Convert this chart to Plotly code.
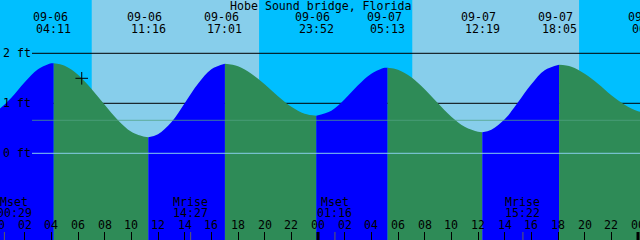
import plotly.graph_objects as go

# ---------------- data ----------------
TITLE = "Hobe Sound bridge, Florida"

# hours since 09-06 00:00 and tide level (ft)
hours = list(range(0, 50))
levels = [0.87, 1.11, 1.42, 1.68, 1.80,
          1.75, 1.57, 1.29, 0.97, 0.66, 0.43, 0.33,
          0.38, 0.62, 1.00, 1.39, 1.68, 1.79,
          1.74, 1.59, 1.38, 1.14, 0.93, 0.79,
          0.75, 0.85, 1.08, 1.36, 1.59, 1.71,
          1.67, 1.52, 1.28, 1.00, 0.73, 0.53, 0.43,
          0.47, 0.68, 1.02, 1.38, 1.66, 1.77,
          1.73, 1.59, 1.39, 1.16, 0.97, 0.84,
          0.80]

# high / low tide events (the first one lies before the chart start)
ext_hours = [-1.0, 4.18, 11.27, 17.02, 23.87, 29.22, 36.32, 42.08, 48.83]
ext_levels = [0.78, 1.80, 0.32, 1.79, 0.75, 1.71, 0.42, 1.77, 0.80]
ext_dates = ["09-05", "09-06", "09-06", "09-06", "09-06", "09-07", "09-07", "09-07", "09-08"]
ext_clock = ["22:59", "04:11", "11:16", "17:01", "23:52", "05:13", "12:19", "18:05", "00:50"]

# sun
sunrise_hours = [7.03, 31.07]
sunset_hours = [19.58, 43.58]

# moon
moon_hours = [0.48, 14.45, 25.27, 39.37]
moon_names = ["Mset", "Mrise", "Mset", "Mrise"]
moon_clock = ["00:29", "14:27", "01:16", "15:22"]
moon_label_shift = [10, 0, 0, 0]

# axis ticks
tick_hours = list(range(0, 50, 2))
tick_text = ["%02d" % (h % 24) for h in tick_hours]
midnight_hours = [0, 24, 48]

depth_levels = [2, 1, 0]
depth_text = ["2 ft", "1 ft", "0 ft"]
msl_level = 0.66
now_hour = 6.28
now_level = 1.50

# ---------------- style ----------------
W, H = 640, 240
XMIN, XMAX = 0.15, 48.15
YMIN, YMAX = -1.734, 3.066
BOTTOM = -2.5
C_NIGHT = "#00BFFF"
C_DAY = "#87CEEB"
C_RISE = "#0000FF"
C_FALL = "#2E8B57"
FONT = dict(family="DejaVu Sans Mono", size=11.6, color="black")


def fx(t):
    return (t - XMIN) / (XMAX - XMIN)


def fy_px(py):
    return 1 - py / H


fig = go.Figure()

# tide curve, coloured by rising / falling
for i in range(len(ext_hours) - 1):
    tA, tB = ext_hours[i], ext_hours[i + 1]
    hA, hB = ext_levels[i], ext_levels[i + 1]
    xs = [tA]
    ys = [hA]
    for t, lv in zip(hours, levels):
        if tA + 0.15 < t < tB - 0.15:
            xs.append(t)
            ys.append(lv)
    xs.append(tB)
    ys.append(hB)
    col = C_RISE if hB > hA else C_FALL
    fig.add_trace(go.Scatter(x=[tA, tB], y=[BOTTOM, BOTTOM], mode="lines",
                             line=dict(width=0), hoverinfo="skip", showlegend=False))
    fig.add_trace(go.Scatter(x=xs, y=ys, mode="lines", line=dict(width=0, shape="spline", color=col),
                             fill="tonexty", fillcolor=col, hoverinfo="skip", showlegend=False))

# current-time mark
fig.add_trace(go.Scatter(x=[now_hour], y=[now_level], mode="markers",
                         marker=dict(symbol="cross-thin", size=9, line=dict(width=1, color="black")),
                         showlegend=False, hoverinfo="skip"))

shapes = []
for r, s in zip(sunrise_hours, sunset_hours):
    shapes.append(dict(type="rect", xref="x", yref="paper", x0=r, x1=s, y0=0, y1=1,
                       fillcolor=C_DAY, line=dict(width=0), layer="below"))
for lv in depth_levels[:2]:
    shapes.append(dict(type="line", xref="paper", yref="y", x0=32 / W, x1=1, y0=lv, y1=lv,
                       line=dict(color="black", width=1), layer="below"))
shapes.append(dict(type="line", xref="paper", yref="y", x0=32 / W, x1=1, y0=msl_level, y1=msl_level,
                   line=dict(color="rgba(80,160,130,0.75)", width=1), layer="above"))
shapes.append(dict(type="line", xref="paper", yref="y", x0=32 / W, x1=1, y0=0, y1=0,
                   line=dict(color="#87CEEB", width=1), layer="above"))
for t in midnight_hours:
    shapes.append(dict(type="line", xref="x", yref="paper", x0=t, x1=t, y0=0, y1=8 / H,
                       line=dict(color="black", width=3), layer="above"))
for t in moon_hours:
    shapes.append(dict(type="line", xref="x", yref="paper", x0=t, x1=t, y0=0, y1=8 / H,
                       line=dict(color="#606060", width=1), layer="above"))

ann = []
ann.append(dict(text=TITLE, xref="paper", yref="paper", x=0.5, y=fy_px(5.5),
                xanchor="center", yanchor="middle", showarrow=False, font=FONT))
for t, d, c in zip(ext_hours, ext_dates, ext_clock):
    if t < XMIN:
        continue
    ann.append(dict(text=d, xref="paper", yref="paper", x=fx(t), y=fy_px(16.7), xshift=-3.5,
                    xanchor="center", yanchor="middle", showarrow=False, font=FONT))
    ann.append(dict(text=c, xref="paper", yref="paper", x=fx(t), y=fy_px(29.3),
                    xanchor="center", yanchor="middle", showarrow=False, font=FONT))
for lv, txt in zip(depth_levels, depth_text):
    ann.append(dict(text=txt, xref="paper", yref="y", x=1 / W, y=lv, yshift=0.5,
                    xanchor="left", yanchor="middle", showarrow=False, font=FONT))
for t, n, c, sh in zip(moon_hours, moon_names, moon_clock, moon_label_shift):
    ann.append(dict(text=n, xref="paper", yref="paper", x=fx(t), y=fy_px(201.7), xshift=sh,
                    xanchor="center", yanchor="middle", showarrow=False, font=FONT))
    ann.append(dict(text=c, xref="paper", yref="paper", x=fx(t), y=fy_px(213.3), xshift=sh,
                    xanchor="center", yanchor="middle", showarrow=False, font=FONT))
for t, txt in zip(tick_hours, tick_text):
    ann.append(dict(text=txt, xref="paper", yref="paper", x=fx(t), y=fy_px(225.3),
                    xanchor="center", yanchor="middle", showarrow=False, font=FONT))

fig.update_layout(
    width=W, height=H, margin=dict(l=0, r=0, t=0, b=0),
    paper_bgcolor=C_NIGHT, plot_bgcolor=C_NIGHT,
    shapes=shapes, annotations=ann, showlegend=False,
    xaxis=dict(range=[XMIN, XMAX], tickvals=tick_hours, ticks="inside", ticklen=8,
               tickcolor="black", tickwidth=1, showticklabels=False, showgrid=False,
               zeroline=False, showline=False, fixedrange=True),
    yaxis=dict(range=[YMIN, YMAX], showticklabels=False, showgrid=False, zeroline=False,
               showline=False, ticks="", fixedrange=True),
)

fig.write_html("out.html", config={"displayModeBar": False})
